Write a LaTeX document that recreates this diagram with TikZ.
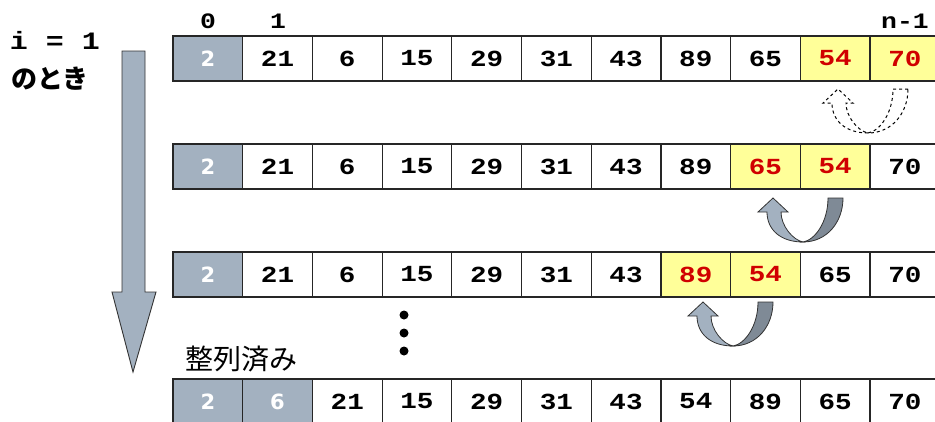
\documentclass[tikz,border=0pt]{standalone}
\usepackage{fontspec}
\newfontfamily\mono[FakeStretch=1.2]{Liberation Mono}
\newfontfamily\jp{Noto Sans CJK JP}
\newfontfamily\sansnum{DejaVu Sans}
\definecolor{cellgray}{HTML}{A3B1C0}
\definecolor{cellyel}{HTML}{FFFF99}
\definecolor{numred}{HTML}{D00000}
\definecolor{arrdark}{HTML}{7F8A96}
\begin{document}
\begin{tikzpicture}[x=1pt,y=-1pt,
  cell/.style={draw=black!85, line width=1.2pt, minimum width=69.7pt, minimum height=45pt, inner sep=0pt,
    font=\mono\bfseries\fontsize{23}{23}\selectfont},
  cw/.style={cell, fill=white},
  cg/.style={cell, fill=cellgray, text=white, font=\sansnum\bfseries\fontsize{21}{21}\selectfont},
  cy/.style={cell, fill=cellyel, text=numred},
  idx/.style={font=\mono\bfseries\fontsize{22}{22}\selectfont, inner sep=0pt},
  jtext/.style={inner sep=0pt},
  dotn/.style={circle, fill=black, inner sep=0pt, minimum size=9pt},
  utright/.style={draw=black!80, line width=0.8pt, fill=arrdark},
  utleft/.style={draw=black!80, line width=0.8pt, fill=cellgray},
  pics/uturn/.style={code={
    \path[utright] (40,-44) -- (25,-44) .. controls (25,-20) and (12,-2) .. (0,0)
      .. controls (24,0) and (40,-20) .. (40,-44) -- cycle;
    \path[utleft] (0,0) .. controls (-22,0) and (-36,-12) .. (-36,-30) -- (-45,-30) -- (-30,-44)
      -- (-15,-30) -- (-22,-30) .. controls (-22,-16) and (-10,-2) .. (0,0) -- cycle;
  }}
]
\useasboundingbox (0,0) rectangle (935,421);

% big downward arrow
\path[draw=black!80, line width=0.9pt, fill=cellgray]
  (122,51) -- (145,51) -- (145,292) -- (156,292) -- (133,372) -- (112,292) -- (122,292) -- cycle;

% labels
\node[idx] (l0) at (208,21) {0};
\node[idx] (l1) at (278,21) {1};
\node[idx] (ln) at (905,21) {n-1};
\node[font=\mono\bfseries\fontsize{25}{25}\selectfont, inner sep=0pt] (ieq) at (55,40) {i = 1};
\node[jtext, font=\jp\bfseries\fontsize{26}{26}\selectfont] (toki) at (50,79) {のとき};
\node[jtext, font=\jp\fontsize{28}{28}\selectfont] (sorted) at (241,359) {整列済み};

% rows
\foreach \v/\s [count=\i from 0] in {2/cg,21/cw,6/cw,15/cw,29/cw,31/cw,43/cw,89/cw,65/cw,54/cy,70/cy}
  \node[\s] (ra\i) at ({173+69.7*(\i+0.5)},58.5) {\v};
\foreach \v/\s [count=\i from 0] in {2/cg,21/cw,6/cw,15/cw,29/cw,31/cw,43/cw,89/cw,65/cy,54/cy,70/cw}
  \node[\s] (rb\i) at ({173+69.7*(\i+0.5)},166.5) {\v};
\foreach \v/\s [count=\i from 0] in {2/cg,21/cw,6/cw,15/cw,29/cw,31/cw,43/cw,89/cy,54/cy,65/cw,70/cw}
  \node[\s] (rc\i) at ({173+69.7*(\i+0.5)},274.5) {\v};
\foreach \v/\s [count=\i from 0] in {2/cg,6/cg,21/cw,15/cw,29/cw,31/cw,43/cw,54/cw,89/cw,65/cw,70/cw}
  \node[\s] (rd\i) at ({173+69.7*(\i+0.5)},401.5) {\v};

% vertical dots
\node[dotn] (d1) at (404,315) {};
\node[dotn] (d2) at (404,333) {};
\node[dotn] (d3) at (404,351) {};

% swap arrows
\pic[utright/.style={draw=black, dashed, line width=1pt},
     utleft/.style={draw=black, dashed, line width=1pt}] at (868,133) {uturn};
\pic at (803,242) {uturn};
\pic at (733,346) {uturn};
\end{tikzpicture}
\end{document}
